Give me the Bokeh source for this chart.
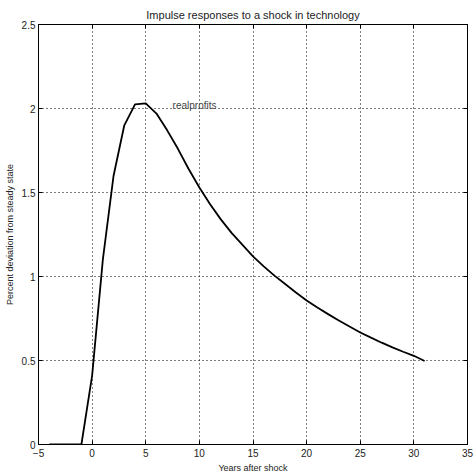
from bokeh.plotting import figure
from bokeh.models import Range1d, LinearAxis, Label, FixedTicker
from bokeh.embed import file_html
from bokeh.resources import INLINE

years = [-4, -3, -2, -1, 0, 1, 2, 3, 4, 5, 6, 7, 8, 9, 10, 11, 12, 13, 14, 15,
         16, 17, 18, 19, 20, 21, 22, 23, 24, 25, 26, 27, 28, 29, 30, 31]
real_profits = [0.0, 0.0, 0.0, 0.0, 0.41, 1.10, 1.60, 1.90, 2.025, 2.03, 1.97,
                1.87, 1.76, 1.64, 1.53, 1.43, 1.34, 1.26, 1.19, 1.12,
                1.06, 1.005, 0.955, 0.905, 0.857, 0.815, 0.776, 0.738, 0.702,
                0.667, 0.636, 0.606, 0.578, 0.552, 0.528, 0.497]
x_ticks = [-5, 0, 5, 10, 15, 20, 25, 30, 35]
y_ticks = [0, 0.5, 1, 1.5, 2, 2.5]
y_tick_labels = {0: "0", 0.5: "0.5", 1: "1", 1.5: "1.5", 2: "2", 2.5: "2.5"}

FONT = "Liberation Sans"
TXT = "#222222"

p = figure(width=474, height=475, output_backend="svg", toolbar_location=None,
           x_range=Range1d(-5, 35), y_range=Range1d(0, 2.5),
           min_border_left=38, min_border_right=7, min_border_top=24,
           min_border_bottom=30)

p.title.text = "Impulse responses to a shock in technology"
p.title.align = "center"
p.title.text_font = FONT
p.title.text_font_size = "11px"
p.title.text_font_style = "normal"
p.title.text_color = TXT
p.title.offset = 20
p.title.standoff = 7

p.line(years, real_profits, line_color="black", line_width=1.8)

p.add_layout(Label(x=7.5, y=2.02, text="realprofits", text_font=FONT,
                   text_font_size="10px", text_color="#444444",
                   text_baseline="middle", text_align="left"))

for ax in [p.xaxis[0], p.yaxis[0]]:
    ax.major_tick_in = 4
    ax.major_tick_out = 0
    ax.minor_tick_line_color = None
    ax.axis_line_color = "black"
    ax.major_tick_line_color = "black"
    ax.major_label_text_font = FONT
    ax.major_label_text_font_size = "10px"
    ax.major_label_text_color = TXT
    ax.axis_label_text_font = FONT
    ax.axis_label_text_font_size = "9px"
    ax.axis_label_text_font_style = "normal"
    ax.axis_label_text_color = TXT

p.xaxis.ticker = FixedTicker(ticks=x_ticks)
p.yaxis.ticker = FixedTicker(ticks=y_ticks)
p.yaxis.major_label_overrides = y_tick_labels
p.xaxis.axis_label = "Years after shock"
p.xaxis.axis_label_standoff = 3
p.xaxis.major_label_standoff = 4
p.yaxis.axis_label = "Percent deviation from steady state"
p.yaxis.axis_label_standoff = 4
p.yaxis.major_label_standoff = 3

for loc, ticks in [("above", x_ticks), ("right", y_ticks)]:
    ax = LinearAxis(ticker=FixedTicker(ticks=ticks))
    ax.major_tick_in = 4
    ax.major_tick_out = 0
    ax.minor_tick_line_color = None
    ax.major_label_overrides = {t: "" for t in ticks}
    ax.major_label_standoff = 0
    ax.axis_line_color = "black"
    p.add_layout(ax, loc)

p.xgrid.ticker = FixedTicker(ticks=x_ticks)
p.ygrid.ticker = FixedTicker(ticks=y_ticks)
p.grid.grid_line_color = "black"
p.grid.grid_line_dash = "1 3"
p.grid.grid_line_width = 1
p.outline_line_color = "black"
p.outline_line_width = 1
p.background_fill_color = "white"
p.border_fill_color = "white"

open("out.html", "w").write(file_html(p, INLINE))
